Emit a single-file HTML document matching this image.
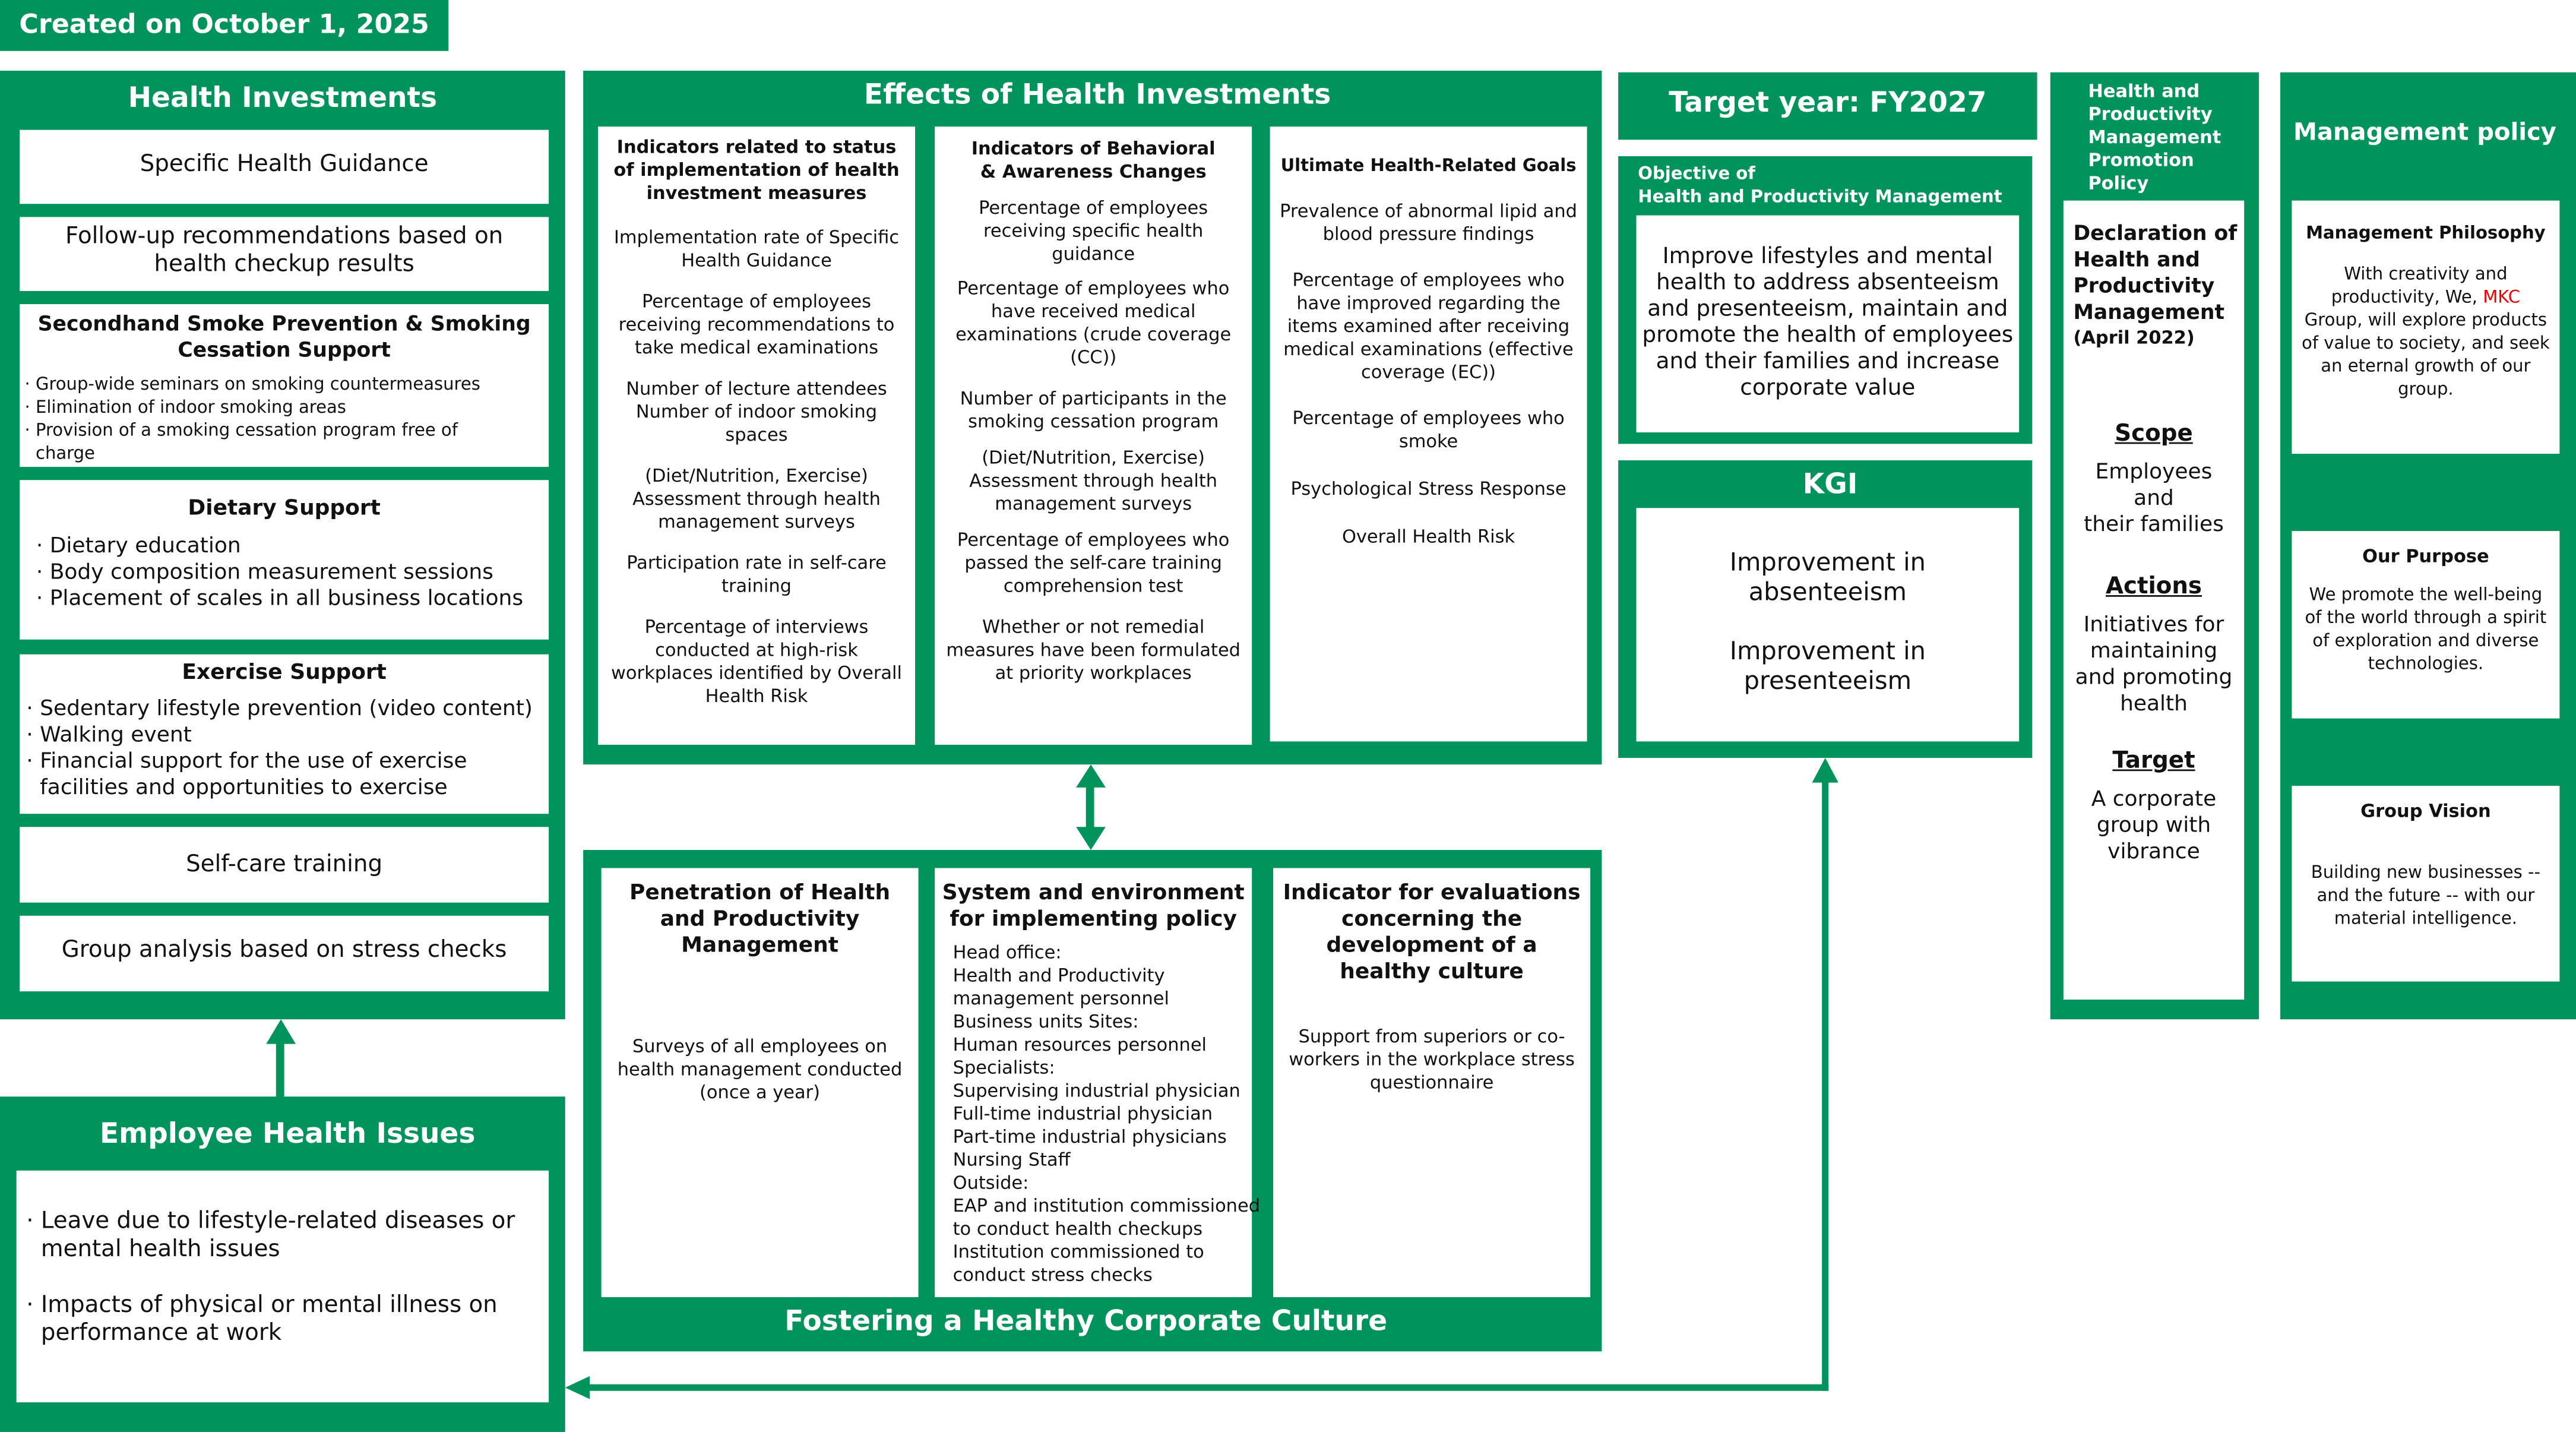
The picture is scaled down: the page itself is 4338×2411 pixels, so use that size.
<!DOCTYPE html>
<html><head><meta charset="utf-8"><style>
html,body{margin:0;padding:0;background:#fff;width:4338px;height:2411px;overflow:hidden}
#w{position:absolute;left:0;top:0;width:1568px;height:871px;transform:scale(2.7666,2.768);transform-origin:0 0;font-family:"DejaVu Sans","Liberation Sans",sans-serif;color:#111}
.g{position:absolute;background:#00935b}
.b{position:absolute;background:#fff;box-sizing:border-box}
.t{position:absolute;color:#fff;font-weight:bold;text-align:center}
.c{text-align:center}
.s{font-size:11px;line-height:14px}
.m{font-size:14px;line-height:17px}
.nw{white-space:nowrap}
p{margin:0}
</style></head><body><div id="w">
<div class="g" style="left:0;top:0;width:273px;height:31px"></div>
<div class="t" style="left:0;top:5px;width:273px;font-size:16px">Created on October 1, 2025</div>

<!-- Health Investments -->
<div class="g" style="left:0;top:43px;width:344px;height:577px"></div>
<div class="t" style="left:0;top:50px;width:344px;font-size:17px">Health Investments</div>
<div class="b m c" style="left:12px;top:79px;width:322px;height:45px;padding-top:13px">Specific Health Guidance</div>
<div class="b m c nw" style="left:12px;top:132px;width:322px;height:45px;padding-top:4px">Follow-up recommendations based on<br>health checkup results</div>
<div class="b" style="left:12px;top:185px;width:322px;height:99px;padding:4px 3px">
<div class="c" style="font-weight:bold;font-size:12.5px;line-height:16px">Secondhand Smoke Prevention &amp; Smoking Cessation Support</div>
<div class="nw" style="font-size:10.5px;line-height:14px;margin-top:6px">· Group-wide seminars on smoking countermeasures<br>· Elimination of indoor smoking areas<br>· Provision of a smoking cessation program free of<br>&nbsp;&nbsp;charge</div></div>
<div class="b" style="left:12px;top:292px;width:322px;height:97px;padding:10px 10px">
<div class="c" style="font-weight:bold;font-size:13px">Dietary Support</div>
<div class="nw" style="margin-top:8px;font-size:13px;line-height:16px">· Dietary education<br>· Body composition measurement sessions<br>· Placement of scales in all business locations</div></div>
<div class="b" style="left:12px;top:398px;width:322px;height:97px;padding:4px 4px">
<div class="c" style="font-weight:bold;font-size:13px">Exercise Support</div>
<div class="nw" style="margin-top:7px;font-size:13px;line-height:16px">· Sedentary lifestyle prevention (video content)<br>· Walking event<br>· Financial support for the use of exercise<br>&nbsp;&nbsp;facilities and opportunities to exercise</div></div>
<div class="b m c" style="left:12px;top:503px;width:322px;height:46px;padding-top:15px">Self-care training</div>
<div class="b m c" style="left:12px;top:557px;width:322px;height:46px;padding-top:13px">Group analysis based on stress checks</div>

<!-- arrow up -->
<div class="g" style="left:168px;top:632px;width:5px;height:36px"></div>
<svg style="position:absolute;left:161px;top:620px" width="20" height="16"><polygon points="10,0 19,15 1,15" fill="#00935b"/></svg>

<!-- Employee Health Issues -->
<div class="g" style="left:0;top:667px;width:344px;height:204px"></div>
<div class="t" style="left:0;top:680px;width:350px;font-size:17px">Employee Health Issues</div>
<div class="b m nw" style="left:10px;top:712px;width:324px;height:141px;padding:23px 6px">· Leave due to lifestyle-related diseases or<br>&nbsp;&nbsp;mental health issues<br><br>· Impacts of physical or mental illness on<br>&nbsp;&nbsp;performance at work</div>

<!-- Effects -->
<div class="g" style="left:355px;top:43px;width:620px;height:422px"></div>
<div class="t" style="left:355px;top:48px;width:626px;font-size:17px">Effects of Health Investments</div>
<div class="b s c" style="left:364px;top:77px;width:193px;height:376px;padding:6px 4px">
<p style="font-weight:bold;font-size:11px">Indicators related to status of implementation of health investment measures</p>
<p style="margin-top:13px">Implementation rate of Specific Health Guidance</p>
<p style="margin-top:11px">Percentage of employees receiving recommendations to take medical examinations</p>
<p style="margin-top:11px">Number of lecture attendees Number of indoor smoking spaces</p>
<p style="margin-top:11px">(Diet/Nutrition, Exercise) Assessment through health management surveys</p>
<p style="margin-top:11px">Participation rate in self-care training</p>
<p style="margin-top:11px">Percentage of interviews conducted at high-risk workplaces identified by Overall Health Risk</p></div>
<div class="b s c" style="left:569px;top:77px;width:193px;height:376px;padding:7px 6px">
<p style="font-weight:bold;font-size:11px">Indicators of Behavioral<br>&amp; Awareness Changes</p>
<p style="margin-top:8px">Percentage of employees receiving specific health guidance</p>
<p style="margin-top:7px">Percentage of employees who have received medical examinations (crude coverage (CC))</p>
<p style="margin-top:11px">Number of participants in the smoking cessation program</p>
<p style="margin-top:8px">(Diet/Nutrition, Exercise) Assessment through health management surveys</p>
<p style="margin-top:8px">Percentage of employees who passed the self-care training comprehension test</p>
<p style="margin-top:11px">Whether or not remedial measures have been formulated at priority workplaces</p></div>
<div class="b s c" style="left:773px;top:77px;width:193px;height:374px;padding:17px 2px">
<p class="nw" style="font-weight:bold;font-size:10.5px">Ultimate Health-Related Goals</p>
<p style="margin-top:14px">Prevalence of abnormal lipid and blood pressure findings</p>
<p style="margin-top:14px">Percentage of employees who have improved regarding the items examined after receiving medical examinations (effective coverage (EC))</p>
<p style="margin-top:14px">Percentage of employees who smoke</p>
<p style="margin-top:15px">Psychological Stress Response</p>
<p style="margin-top:15px">Overall Health Risk</p></div>

<!-- double arrow -->
<div class="g" style="left:661px;top:475px;width:5px;height:32px"></div>
<svg style="position:absolute;left:654px;top:465px" width="20" height="53"><polygon points="10,0 19,14 1,14" fill="#00935b"/><polygon points="10,52 19,38 1,38" fill="#00935b"/></svg>

<!-- Fostering -->
<div class="g" style="left:355px;top:517px;width:620px;height:305px"></div>
<div class="t" style="left:355px;top:794px;width:612px;font-size:17px">Fostering a Healthy Corporate Culture</div>
<div class="b s c" style="left:366px;top:528px;width:193px;height:261px;padding:8px 4px">
<p style="font-weight:bold;font-size:13px;line-height:16px">Penetration of Health and Productivity Management</p>
<p style="margin-top:46px">Surveys of all employees on health management conducted<br>(once a year)</p></div>
<div class="b s" style="left:569px;top:528px;width:193px;height:261px;padding:8px 11px">
<p class="c" style="font-weight:bold;font-size:13px;line-height:16px;margin-left:-8px;margin-right:-8px">System and environment for implementing policy</p>
<p class="nw" style="margin-top:5px">Head office:<br>Health and Productivity<br>management personnel<br>Business units Sites:<br>Human resources personnel<br>Specialists:<br>Supervising industrial physician<br>Full-time industrial physician<br>Part-time industrial physicians<br>Nursing Staff<br>Outside:<br>EAP and institution commissioned<br>to conduct health checkups<br>Institution commissioned to<br>conduct stress checks</p></div>
<div class="b s c" style="left:775px;top:528px;width:193px;height:261px;padding:8px 4px">
<p style="font-weight:bold;font-size:13px;line-height:16px">Indicator for evaluations concerning the development of a healthy culture</p>
<p style="margin-top:24px">Support from superiors or co-workers in the workplace stress questionnaire</p></div>

<!-- Target year -->
<div class="g" style="left:985px;top:44px;width:255px;height:41px"></div>
<div class="t" style="left:985px;top:53px;width:255px;font-size:17px">Target year: FY2027</div>
<div class="g" style="left:985px;top:95px;width:252px;height:175px"></div>
<div class="t nw" style="left:997px;top:99px;text-align:left;font-size:10.5px;line-height:14px">Objective of<br>Health and Productivity Management</div>
<div class="b c" style="left:996px;top:131px;width:233px;height:132px;padding:17px 3px 0;font-size:13.5px;line-height:16px">Improve lifestyles and mental health to address absenteeism and presenteeism, maintain and promote the health of employees and their families and increase corporate value</div>
<div class="g" style="left:985px;top:280px;width:252px;height:181px"></div>
<div class="t" style="left:985px;top:285px;width:258px;font-size:17px">KGI</div>
<div class="b c" style="left:996px;top:309px;width:233px;height:142px;padding:24px 20px 0;font-size:15px;line-height:18px">Improvement in absenteeism<br><br>Improvement in presenteeism</div>

<!-- return arrow -->
<div class="g" style="left:1109px;top:474px;width:4px;height:372px"></div>
<svg style="position:absolute;left:1102px;top:461px" width="18" height="16"><polygon points="9,0 17,15 1,15" fill="#00935b"/></svg>
<div class="g" style="left:356px;top:842px;width:757px;height:4px"></div>
<svg style="position:absolute;left:344px;top:836px" width="16" height="16"><polygon points="0,8 15,1 15,15" fill="#00935b"/></svg>

<!-- Policy -->
<div class="g" style="left:1248px;top:44px;width:127px;height:576px"></div>
<div class="t" style="left:1271px;top:49px;text-align:left;font-size:11px;line-height:14px">Health and<br>Productivity<br>Management<br>Promotion<br>Policy</div>
<div class="b" style="left:1256px;top:122px;width:110px;height:486px;padding:12px 6px;font-size:13px;line-height:16px">
<p class="nw" style="font-weight:bold;font-size:12.5px">Declaration of<br>Health and<br>Productivity<br>Management</p>
<p style="font-weight:bold;font-size:11px">(April 2022)</p>
<p class="c" style="margin-top:42px;font-weight:bold;font-size:14px;text-decoration:underline">Scope</p>
<p class="c" style="margin-top:8px">Employees<br>and<br>their families</p>
<p class="c" style="margin-top:21px;font-weight:bold;font-size:14px;text-decoration:underline">Actions</p>
<p class="c" style="margin-top:8px;margin-left:-4px;margin-right:-4px">Initiatives for maintaining and promoting health</p>
<p class="c" style="margin-top:18px;font-weight:bold;font-size:14px;text-decoration:underline">Target</p>
<p class="c" style="margin-top:8px">A corporate group with vibrance</p></div>

<!-- Management policy -->
<div class="g" style="left:1388px;top:44px;width:180px;height:576px"></div>
<div class="t" style="left:1388px;top:73px;width:176px;font-size:14.5px">Management policy</div>
<div class="b c" style="left:1395px;top:122px;width:163px;height:154px;padding:13px 6px;font-size:10.5px;line-height:14px">
<p class="nw" style="font-weight:bold;font-size:10.5px;margin:0 -6px">Management Philosophy</p>
<p style="margin-top:11px">With creativity and productivity, We, <span style="color:#e00">MKC</span> Group, will explore products of value to society, and seek an eternal growth of our group.</p></div>
<div class="b c" style="left:1395px;top:323px;width:163px;height:114px;padding:9px 6px;font-size:10.5px;line-height:14px">
<p style="font-weight:bold;font-size:11px">Our Purpose</p>
<p style="margin-top:9px">We promote the well-being of the world through a spirit of exploration and diverse technologies.</p></div>
<div class="b c" style="left:1395px;top:478px;width:163px;height:119px;padding:9px 6px;font-size:10.5px;line-height:14px">
<p style="font-weight:bold;font-size:11px">Group Vision</p>
<p style="margin-top:23px">Building new businesses -- and the future -- with our material intelligence.</p></div>
</div></body></html>
